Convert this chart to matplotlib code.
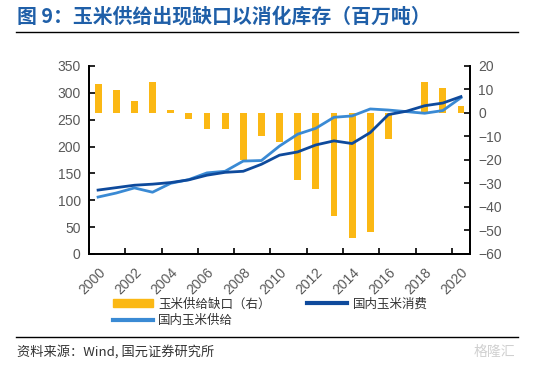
import matplotlib
matplotlib.use("Agg")
import matplotlib.pyplot as plt
from matplotlib.patches import Patch
from matplotlib.lines import Line2D

plt.rcParams['font.family'] = ['Liberation Sans', 'Noto Sans CJK SC', 'DejaVu Sans']

years = list(range(2000, 2021))
# 玉米供给缺口 (right axis, 百万吨)
gap = [12.3, 9.8, 5.1, 13.2, 1.3, -2.7, -6.9, -6.7, -20.0, -9.9, -12.2,
       -28.6, -32.4, -44.0, -53.4, -50.6, -10.9, 0.0, 13.0, 10.6, 2.8]
# 国内玉米消费 (left axis)
consumption = [119, 123.5, 128, 130, 133, 138, 146.7, 152, 154, 167, 184,
               190, 203, 210.6, 205.6, 226, 259.5, 265.8, 276, 281, 293]
# 国内玉米供给 (left axis)
supply = [106, 113.5, 123, 115, 131.6, 138.5, 151, 154, 173, 174, 201,
          223, 234, 254.5, 257, 270, 268, 265, 262, 267, 291]

gold = '#FBB814'
dark_blue = '#0E4A9C'
light_blue = '#3A8AD4'
grey = '#595959'

fig = plt.figure(figsize=(5.34, 3.68), dpi=100)
ax = fig.add_axes([0.1667, 0.3098, 0.7135, 0.5109])
ax2 = ax.twinx()

x = list(range(len(years)))
ax2.bar(x, gap, width=0.38, color=gold, zorder=1)
ax.plot(x, supply, color=light_blue, lw=2.0, solid_joinstyle='round', zorder=3)
ax.plot(x, consumption, color=dark_blue, lw=2.0, solid_joinstyle='round', zorder=4)
ax.set_zorder(ax2.get_zorder() + 1)
ax.patch.set_visible(False)

ax.set_xlim(-0.5, 20.5)
ax.set_ylim(0, 350)
ax.set_yticks(range(0, 351, 50))
ax2.set_ylim(-60, 20)
ax2.set_yticks(range(-60, 21, 10))

# tick marks at category boundaries, labels on even years
ax.set_xticks([i - 0.5 for i in range(0, 22, 2)] + [20.5])
ax.set_xticklabels([])
ax.set_xticks(x[::2], minor=True)
ax.set_xticklabels([str(y) for y in years[::2]], minor=True, rotation=45,
                   ha='right', va='top', rotation_mode='anchor')
ax.tick_params(axis='x', which='minor', length=0, pad=8, labelsize=10, labelcolor=grey)
ax.tick_params(axis='x', which='major', direction='in', length=4, width=1.2)
ax.tick_params(axis='y', direction='in', length=4, width=1.2, labelsize=10, labelcolor=grey, pad=6)
ax2.tick_params(axis='y', direction='in', length=4, width=1.2, labelsize=10, labelcolor=grey, pad=6)

for a in (ax, ax2):
    a.spines['top'].set_visible(False)
    for s in ('left', 'right', 'bottom'):
        a.spines[s].set_linewidth(1.3)
        a.spines[s].set_color('black')

handles = [Patch(color=gold), Line2D([], [], color=light_blue, lw=3),
           Line2D([], [], color=dark_blue, lw=3)]
labels = ['玉米供给缺口（右）', '国内玉米供给', '国内玉米消费']
fig.legend(handles, labels, ncol=2, loc='upper left', bbox_to_anchor=(0.19, 0.222),
           frameon=False, handlelength=3.2, handleheight=0.55,
           columnspacing=2.9, labelspacing=0.3, handletextpad=0.45,
           prop={'family': ['Noto Sans CJK SC'], 'size': 9}, labelcolor='#333333')

fig.text(0.032, 0.955, '图 9：玉米供给出现缺口以消化库存（百万吨）', fontsize=14.3,
         fontweight='bold', color='#1F5FA8', va='center',
         family=['Noto Sans CJK SC', 'DejaVu Sans'])
fig.add_artist(Line2D([0.03, 0.97], [0.913, 0.913], color='black', lw=1))
fig.add_artist(Line2D([0.03, 0.97], [0.084, 0.084], color='black', lw=1))
fig.text(0.032, 0.043, '资料来源：Wind, 国元证券研究所', fontsize=9.5, color='#333333', va='center',
         family=['Noto Sans CJK SC', 'DejaVu Sans'])
fig.text(0.965, 0.043, '格隆汇', fontsize=10, color='#D0D0D0', ha='right', va='center',
         family=['Noto Sans CJK SC'])

fig.savefig('out.png', dpi=100)
